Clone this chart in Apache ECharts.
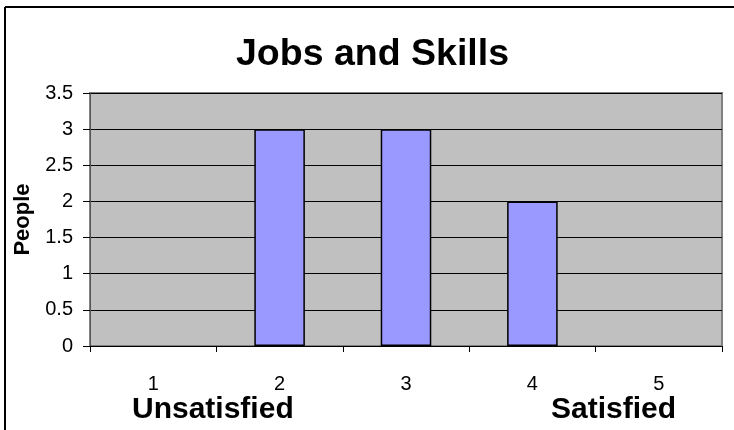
<!DOCTYPE html>
<html>
<head>
<meta charset="utf-8">
<script src="https://cdn.jsdelivr.net/npm/echarts@6/dist/echarts.min.js"></script>
<style>
  html, body { margin: 0; padding: 0; background: #fff; }
  #main { width: 734px; height: 430px; }
</style>
</head>
<body>
<div id="main"></div>
<script>
// chart data
var categories = ['1', '2', '3', '4', '5'];
var people = [0, 3, 3, 2, 0];
var scaleLabels = ['Unsatisfied', 'Satisfied'];

var myChart = echarts.init(document.getElementById('main'));
var option = {
    backgroundColor: '#fff',
    animation: false,
    title: {
        text: 'Jobs and Skills',
        left: 231,
        top: 31,
        textStyle: { fontFamily: 'Liberation Sans', fontSize: 37.5, fontWeight: 'bold', color: '#000' }
    },
    grid: { left: 90, right: 12, top: 93, bottom: 84, show: true,
            backgroundColor: '#C0C0C0', borderColor: '#808080', borderWidth: 2 },
    graphic: [
        // outer chart frame, only left and top edges show in the crop
        { type: 'line', shape: { x1: 5, y1: 7, x2: 5, y2: 430 },
          style: { stroke: '#000', lineWidth: 2 }, silent: true },
        { type: 'line', shape: { x1: 5, y1: 7, x2: 734, y2: 7 },
          style: { stroke: '#000', lineWidth: 2 }, silent: true },
        { type: 'text', x: 132, y: 410,
          style: { text: scaleLabels[0], font: 'bold 30px "Liberation Sans"', fill: '#000',
                   align: 'left', verticalAlign: 'middle' } },
        { type: 'text', x: 676, y: 410,
          style: { text: scaleLabels[1], font: 'bold 30px "Liberation Sans"', fill: '#000',
                   align: 'right', verticalAlign: 'middle' } }
    ],
    xAxis: {
        type: 'category',
        data: categories,
        boundaryGap: true,
        axisLine: { lineStyle: { color: '#000', width: 1 } },
        axisTick: { show: true, alignWithLabel: false, length: 6, lineStyle: { color: '#000' } },
        axisLabel: { color: '#000', fontFamily: 'Liberation Sans', fontSize: 20, margin: 28 },
        splitLine: { show: false }
    },
    yAxis: {
        type: 'value',
        min: 0,
        max: 3.5,
        interval: 0.5,
        name: 'People',
        nameLocation: 'middle',
        nameGap: 55,
        nameRotate: 90,
        nameTextStyle: { color: '#000', fontFamily: 'Liberation Sans', fontSize: 22, fontWeight: 'bold' },
        axisLine: { show: true, lineStyle: { color: '#555', width: 1 } },
        axisTick: { show: true, length: 7, lineStyle: { color: '#000' } },
        axisLabel: { color: '#000', fontFamily: 'Liberation Sans', fontSize: 20, margin: 17 },
        splitLine: { show: true, lineStyle: { color: '#000', width: 1 } }
    },
    series: [
        {
            name: 'People',
            type: 'bar',
            // empty categories are left blank, as in the original
            data: people.map(function (v) { return v === 0 ? null : v; }),
            barWidth: '40%',
            itemStyle: { color: '#9999FF', borderColor: '#000', borderWidth: 1.5 }
        }
    ]
};
myChart.setOption(option);
</script>
</body>
</html>
